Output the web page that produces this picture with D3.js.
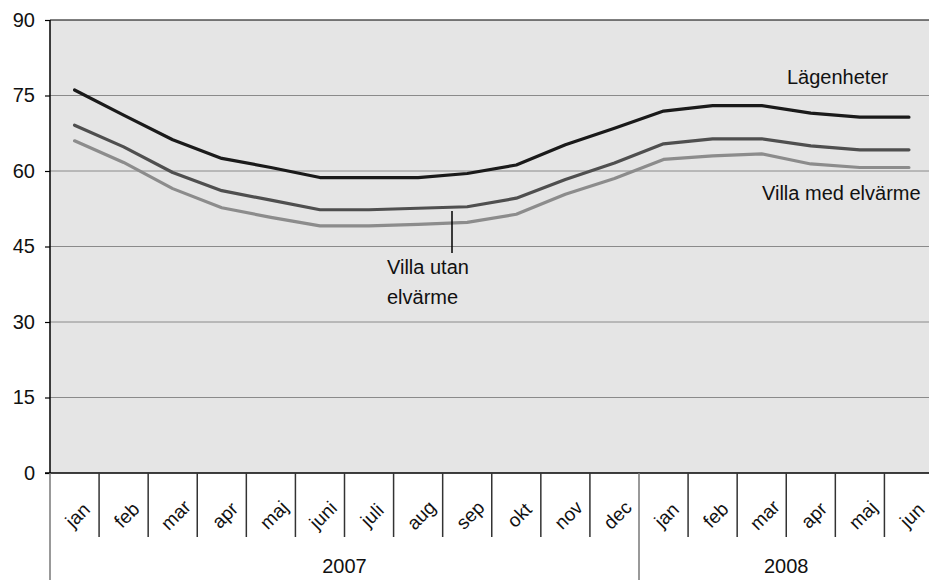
<!DOCTYPE html>
<html><head><meta charset="utf-8">
<script src="https://cdn.jsdelivr.net/npm/d3@7"></script>
<style>body{margin:0;background:#fff}svg{display:block;font-family:"Liberation Sans",Arial,sans-serif}</style>
</head><body><svg id="c" width="929" height="580"></svg>
<script>
const months = ["jan","feb","mar","apr","maj","juni","juli","aug","sep","okt","nov","dec","jan","feb","mar","apr","maj","jun"];
const years = [{label:"2007", from:0, to:12},{label:"2008", from:12, to:18}];
const yTicks = [0,15,30,45,60,75,90];
const lagenheter = [76.1,71.1,66.2,62.5,60.7,58.7,58.7,58.7,59.5,61.2,65.2,68.5,71.9,73.0,73.0,71.5,70.7,70.7];
const villaUtan  = [69.1,64.8,59.7,56.1,54.2,52.3,52.3,52.6,52.9,54.6,58.3,61.6,65.4,66.4,66.4,65.0,64.2,64.2];
const villaMed   = [66.0,61.7,56.5,52.7,50.8,49.1,49.1,49.4,49.8,51.4,55.4,58.5,62.3,63.0,63.4,61.4,60.7,60.7];

const svg = d3.select("#c");
const L = 50, R = 933.5, T = 20, B = 473;
const x = d3.scaleBand().domain(d3.range(months.length)).range([L, R]);
const y = d3.scaleLinear().domain([0, 90]).range([B, T]);
const FONT = "Liberation Sans, Arial, sans-serif";

svg.append("rect").attr("x", L).attr("y", T).attr("width", R - L).attr("height", B - T).attr("fill", "#e5e5e5");

// grid
svg.append("g").selectAll("line").data(yTicks.filter(d => d > 0 && d < 90)).join("line")
  .attr("x1", L).attr("x2", R).attr("y1", d => y(d)).attr("y2", d => y(d))
  .attr("stroke", "#8a8a8a").attr("stroke-width", 1);

// y axis
const ya = d3.axisLeft(y).tickValues(yTicks).tickSize(5).tickPadding(10);
const yg = svg.append("g").attr("transform", `translate(${L},0)`).call(ya);
yg.attr("font-size", 20).attr("font-family", FONT);
yg.select(".domain").remove();
yg.selectAll(".tick line").attr("stroke", "#000").attr("stroke-width", 1.2);
yg.selectAll("text").attr("fill", "#111");
svg.append("line").attr("x1", L).attr("x2", L).attr("y1", T).attr("y2", B).attr("stroke", "#000").attr("stroke-width", 1.5);
svg.append("line").attr("x1", L).attr("x2", R).attr("y1", T).attr("y2", T).attr("stroke", "#000").attr("stroke-width", 1.2);
svg.append("line").attr("x1", L - 5).attr("x2", R).attr("y1", B).attr("y2", B).attr("stroke", "#000").attr("stroke-width", 1.5);

// category separators
const seps = d3.range(months.length + 1);
svg.append("g").selectAll("line").data(seps).join("line")
  .attr("x1", i => i < months.length ? x(i) : R).attr("x2", i => i < months.length ? x(i) : R)
  .attr("y1", B).attr("y2", i => (i === 0 || i === 12 || i === 18) ? 580 : 537)
  .attr("stroke", i => (i === 0 || i === 12) ? "#777" : "#333").attr("stroke-width", 1.5);

// month labels
svg.append("g").attr("font-family", FONT).selectAll("text").data(months).join("text")
  .attr("transform", (d, i) => `translate(${x(i) + x.bandwidth() / 2 + 3},${B + 42}) rotate(-45)`)
  .attr("text-anchor", "middle").attr("dy", "0.35em").attr("font-size", 19).attr("fill", "#111").text(d => d);

// year labels
svg.append("g").attr("font-family", FONT).selectAll("text").data(years).join("text")
  .attr("x", d => ((d.from < months.length ? x(d.from) : R) + (d.to < months.length ? x(d.to) : R)) / 2)
  .attr("y", 573).attr("text-anchor", "middle").attr("font-size", 20).attr("fill", "#111").text(d => d.label);

// lines
const line = d3.line().x((d, i) => x(i) + x.bandwidth() / 2).y(d => y(d));
const series = [
  {v: villaMed, c: "#8c8c8c"},
  {v: villaUtan, c: "#4f4f4f"},
  {v: lagenheter, c: "#1a1a1a"}
];
svg.append("g").selectAll("path").data(series).join("path")
  .attr("d", d => line(d.v)).attr("fill", "none").attr("stroke", d => d.c)
  .attr("stroke-width", 3.2).attr("stroke-linejoin", "round").attr("stroke-linecap", "round");

// annotations
const lab = svg.append("g").attr("font-size", 20).attr("font-family", FONT).attr("fill", "#111");
lab.append("text").attr("x", 787).attr("y", 84).text("Lägenheter");
lab.append("text").attr("x", 762).attr("y", 200).text("Villa med elvärme");
lab.append("text").attr("x", 387).attr("y", 274).text("Villa utan");
lab.append("text").attr("x", 387).attr("y", 304).text("elvärme");
svg.append("line").attr("x1", 452).attr("x2", 452).attr("y1", 211).attr("y2", 253).attr("stroke", "#000").attr("stroke-width", 1.5);
</script></body></html>
